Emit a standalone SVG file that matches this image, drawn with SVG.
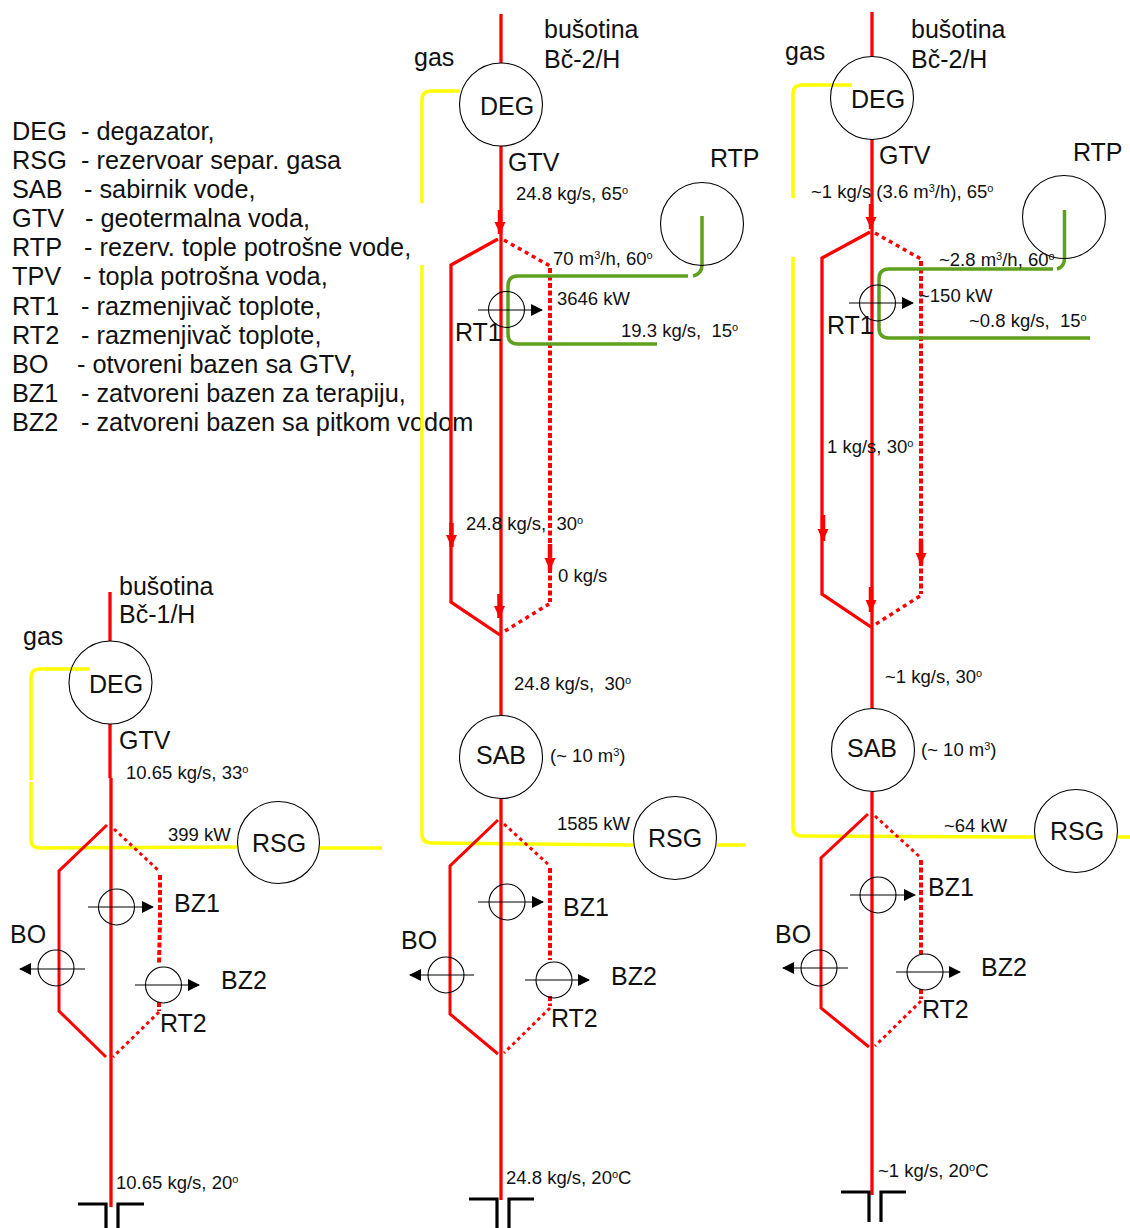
<svg xmlns="http://www.w3.org/2000/svg" width="1130" height="1228" viewBox="0 0 1130 1228">
<defs>
<marker id="tri" markerWidth="12" markerHeight="12" refX="11" refY="6" orient="auto" markerUnits="userSpaceOnUse"><path d="M0 0L12 6L0 12Z" fill="#000"/></marker>
<marker id="red" markerWidth="12" markerHeight="12" refX="12" refY="5.500" orient="auto" markerUnits="userSpaceOnUse"><path d="M0 0L12 5.500L0 11Z" fill="#f00"/></marker>
</defs>
<style>
text{font-family:"Liberation Sans",Arial,sans-serif;fill:#111;white-space:pre}
.l{font-size:25px}
.m{font-size:25.300px}
.s{font-size:18.500px}
.sup{font-size:11px}
.c{fill:none;stroke:#000;stroke-width:1.100}
.r{fill:none;stroke:#f00;stroke-width:3.300}
.t{fill:none;stroke:#f00;stroke-width:3}
.d{fill:none;stroke:#f00;stroke-width:3.500;stroke-dasharray:4 4}
.e{fill:none;stroke:#f00;stroke-width:3;stroke-dasharray:3.500 3.500}
.dd{fill:none;stroke:#f00;stroke-width:4;stroke-dasharray:5 2.500}
.y{fill:none;stroke:#ff0;stroke-width:3.500}
.g{fill:none;stroke:#5fa01e;stroke-width:3.500}
.a{fill:none;stroke:#000;stroke-width:1.200;marker-end:url(#tri)}
.w{fill:none;stroke:#000;stroke-width:3.200}
.h{fill:none;stroke:#f00;stroke-width:4.500;marker-end:url(#red)}
</style>

<g id="legend">
<text class="m" x="12" y="140">DEG</text><text class="m" x="81" y="140">- degazator,</text>
<text class="m" x="12" y="169">RSG</text><text class="m" x="81" y="169">- rezervoar separ. gasa</text>
<text class="m" x="12" y="198">SAB</text><text class="m" x="84" y="198">- sabirnik vode,</text>
<text class="m" x="12" y="227">GTV</text><text class="m" x="85" y="227">- geotermalna voda,</text>
<text class="m" x="12" y="256">RTP</text><text class="m" x="84" y="256">- rezerv. tople potrošne vode,</text>
<text class="m" x="12" y="285">TPV</text><text class="m" x="83" y="285">- topla potrošna voda,</text>
<text class="m" x="12" y="315">RT1</text><text class="m" x="81" y="315">- razmenjivač toplote,</text>
<text class="m" x="12" y="344">RT2</text><text class="m" x="81" y="344">- razmenjivač toplote,</text>
<text class="m" x="12" y="373">BO</text><text class="m" x="77" y="373">- otvoreni bazen sa GTV,</text>
<text class="m" x="12" y="402">BZ1</text><text class="m" x="81" y="402">- zatvoreni bazen za terapiju,</text>
<text class="m" x="12" y="431">BZ2</text><text class="m" x="81" y="431">- zatvoreni bazen sa pitkom vodom</text>
</g>

<g id="connectors">
<!-- left column -->
<path class="y" d="M90 669H40Q31 669 31 678V780M31 782V840Q31 848 40 848L237 847M320 848H382"/>
<path class="r" d="M110 592V641M110 724V778"/>
<path class="r" d="M111 778V1207"/>
<path class="t" d="M107 825L59 871V1011L106 1057"/>
<path class="e" d="M114 829L159 871"/>
<path class="dd" d="M160 875V920L159 965M159 1002V1011"/>
<path class="e" d="M159 1012L113 1057"/>
<path class="w" d="M78 1204H106V1228M144 1204H118V1228"/>
<path class="a" d="M88 907H153"/><path class="a" d="M85 969H20"/><path class="a" d="M135 985H199"/>
<!-- middle column -->
<path class="y" d="M460 91H431Q422 91 422 100V203M422 265V834Q422 843 431 843L633 845M717 845H746"/>
<path class="r" d="M501 14V63M501 146V715M501 799V1200"/>
<path class="h" d="M500 210V234"/>
<path class="r" d="M498 239L451 265V602L500 635"/>
<path class="d" d="M504 240L550 266"/>
<path class="dd" d="M550 268V602"/>
<path class="d" d="M505 631L549 604"/>
<path class="h" d="M451.500 523V547"/>
<path class="h" d="M550 544V570"/>
<path class="h" d="M499.500 594V618"/>
<path class="g" d="M688 276H518Q508 276 508 286V334Q508 344 518 344H657"/>
<path class="g" d="M702 216V265Q702 274 693 276"/>
<path class="t" d="M498 820L450 866V1014L498 1054"/>
<path class="e" d="M504 824L550 866"/>
<path class="dd" d="M550 868V960M550 996V1006"/>
<path class="e" d="M550 1008L504 1053"/>
<path class="w" d="M469 1199H497V1228M534 1199H509V1228"/>
<path class="a" d="M478 310H542"/><path class="a" d="M478 902H543"/><path class="a" d="M474 975H410"/><path class="a" d="M525 980H589"/>
<!-- right column -->
<path class="y" d="M852 85H802Q793 85 793 94V198M793 257V827Q793 836 802 836L1035 837M1118 837H1130"/>
<path class="r" d="M872 12V56M872 139V708M872 792V1195"/>
<path class="h" d="M871 204V229"/>
<path class="r" d="M870 232L822 258V594L871 627"/>
<path class="d" d="M875 233L921 259"/>
<path class="dd" d="M921 261V594"/>
<path class="d" d="M876 624L920 596"/>
<path class="h" d="M823 515V541"/>
<path class="h" d="M921 540V565"/>
<path class="h" d="M871 587V612"/>
<path class="g" d="M1053 269H889Q879 269 879 279V328Q879 338 889 338H1090"/>
<path class="g" d="M1064.500 210V258Q1064.500 267 1057 269"/>
<path class="t" d="M868 814L821 858V1008L869 1047"/>
<path class="e" d="M875 816L921 858"/>
<path class="dd" d="M921 860V954M921 989V999"/>
<path class="e" d="M921 1001L875 1046"/>
<path class="w" d="M841 1192H869V1222M906 1192H881V1222"/>
<path class="a" d="M849 303H913"/><path class="a" d="M850 895H915"/><path class="a" d="M848 968H783"/><path class="a" d="M896 972H960"/>
</g>

<g id="n-deg1"><circle class="c" cx="110.500" cy="682.500" r="41.500"/><text class="l" x="89" y="693">DEG</text></g>
<g id="n-rsg1"><circle class="c" cx="278.500" cy="842.500" r="41"/><text class="l" x="252" y="852">RSG</text></g>
<g id="n-bz1a"><circle class="c" cx="116.500" cy="907" r="18"/></g>
<g id="n-bo-a"><circle class="c" cx="56" cy="968" r="18"/></g>
<g id="n-bz2a"><circle class="c" cx="163.500" cy="985" r="18"/></g>

<g id="n-deg2"><circle class="c" cx="501" cy="104.500" r="41.500"/><text class="l" x="480" y="115">DEG</text></g>
<g id="n-rtp2"><circle class="c" cx="702" cy="224" r="41.500"/></g>
<g id="n-rt1b"><circle class="c" cx="506.500" cy="309.500" r="18"/></g>
<g id="n-sab2"><circle class="c" cx="501" cy="757" r="41.500"/><text class="l" x="476" y="764">SAB</text></g>
<g id="n-rsg2"><circle class="c" cx="675" cy="838" r="41.500"/><text class="l" x="648" y="847">RSG</text></g>
<g id="n-bz1b"><circle class="c" cx="507" cy="902" r="18"/></g>
<g id="n-bo-b"><circle class="c" cx="446" cy="975" r="18"/></g>
<g id="n-bz2b"><circle class="c" cx="554" cy="980" r="18"/></g>

<g id="n-deg3"><circle class="c" cx="872" cy="98" r="41.500"/><text class="l" x="851" y="108">DEG</text></g>
<g id="n-rtp3"><circle class="c" cx="1064" cy="217" r="41.500"/></g>
<g id="n-rt1c"><circle class="c" cx="877.500" cy="303" r="18"/></g>
<g id="n-sab3"><circle class="c" cx="873" cy="750" r="41.500"/><text class="l" x="847" y="757">SAB</text></g>
<g id="n-rsg3"><circle class="c" cx="1076" cy="831" r="41.500"/><text class="l" x="1050" y="840">RSG</text></g>
<g id="n-bz1c"><circle class="c" cx="878" cy="895" r="18"/></g>
<g id="n-bo-c"><circle class="c" cx="819" cy="968" r="18"/></g>
<g id="n-bz2c"><circle class="c" cx="925" cy="972" r="18"/></g>

<g id="labels">
<text class="l" x="119" y="595">bušotina</text><text class="l" x="119" y="623">Bč-1/H</text>
<text class="l" x="23" y="645">gas</text><text class="l" x="119" y="749">GTV</text>
<text class="s" x="126" y="779">10.65 kg/s, 33<tspan class="sup" dy="-6">o</tspan></text>
<text class="s" x="168" y="841">399 kW</text>
<text class="l" x="174" y="912">BZ1</text><text class="l" x="10" y="943">BO</text><text class="l" x="221" y="989">BZ2</text><text class="l" x="160" y="1032">RT2</text>
<text class="s" x="116" y="1189">10.65 kg/s, 20<tspan class="sup" dy="-6">o</tspan></text>

<text class="l" x="544" y="38">bušotina</text><text class="l" x="544" y="68">Bč-2/H</text>
<text class="l" x="414" y="66">gas</text><text class="l" x="508" y="171">GTV</text><text class="l" x="710" y="167">RTP</text>
<text class="s" x="516" y="200">24.8 kg/s, 65<tspan class="sup" dy="-6">o</tspan></text>
<text class="s" x="553" y="265">70 m<tspan class="sup" dy="-6">3</tspan><tspan dy="6">/h, 60</tspan><tspan class="sup" dy="-6">o</tspan></text>
<text class="s" x="557" y="305">3646 kW</text>
<text class="l" x="455" y="341">RT1</text>
<text class="s" x="621" y="337">19.3 kg/s,  15<tspan class="sup" dy="-6">o</tspan></text>
<text class="s" x="466" y="530">24.8 kg/s,  30<tspan class="sup" dy="-6">o</tspan></text>
<text class="s" x="558" y="582">0 kg/s</text>
<text class="s" x="514" y="690">24.8 kg/s,  30<tspan class="sup" dy="-6">o</tspan></text>
<text class="s" x="550" y="762">(~ 10 m<tspan class="sup" dy="-6">3</tspan><tspan dy="6">)</tspan></text>
<text class="s" x="557" y="830">1585 kW</text>
<text class="l" x="563" y="916">BZ1</text><text class="l" x="401" y="949">BO</text><text class="l" x="611" y="985">BZ2</text><text class="l" x="551" y="1027">RT2</text>
<text class="s" x="506" y="1184">24.8 kg/s, 20<tspan class="sup" dy="-6">o</tspan><tspan dy="6">C</tspan></text>

<text class="l" x="911" y="38">bušotina</text><text class="l" x="911" y="68">Bč-2/H</text>
<text class="l" x="785" y="60">gas</text><text class="l" x="879" y="164">GTV</text><text class="l" x="1073" y="161">RTP</text>
<text class="s" x="811" y="198">~1 kg/s (3.6 m<tspan class="sup" dy="-6">3</tspan><tspan dy="6">/h), 65</tspan><tspan class="sup" dy="-6">o</tspan></text>
<text class="s" x="939" y="266">~2.8 m<tspan class="sup" dy="-6">3</tspan><tspan dy="6">/h, 60</tspan><tspan class="sup" dy="-6">o</tspan></text>
<text class="s" x="919" y="302">~150 kW</text>
<text class="l" x="827" y="334">RT1</text>
<text class="s" x="969" y="327">~0.8 kg/s,  15<tspan class="sup" dy="-6">o</tspan></text>
<text class="s" x="827" y="453">1 kg/s, 30<tspan class="sup" dy="-6">o</tspan></text>
<text class="s" x="885" y="683">~1 kg/s, 30<tspan class="sup" dy="-6">o</tspan></text>
<text class="s" x="921" y="756">(~ 10 m<tspan class="sup" dy="-6">3</tspan><tspan dy="6">)</tspan></text>
<text class="s" x="944" y="832">~64 kW</text>
<text class="l" x="928" y="896">BZ1</text><text class="l" x="775" y="943">BO</text><text class="l" x="981" y="976">BZ2</text><text class="l" x="922" y="1018">RT2</text>
<text class="s" x="878" y="1177">~1 kg/s, 20<tspan class="sup" dy="-6">o</tspan><tspan dy="6">C</tspan></text>
</g>
</svg>
